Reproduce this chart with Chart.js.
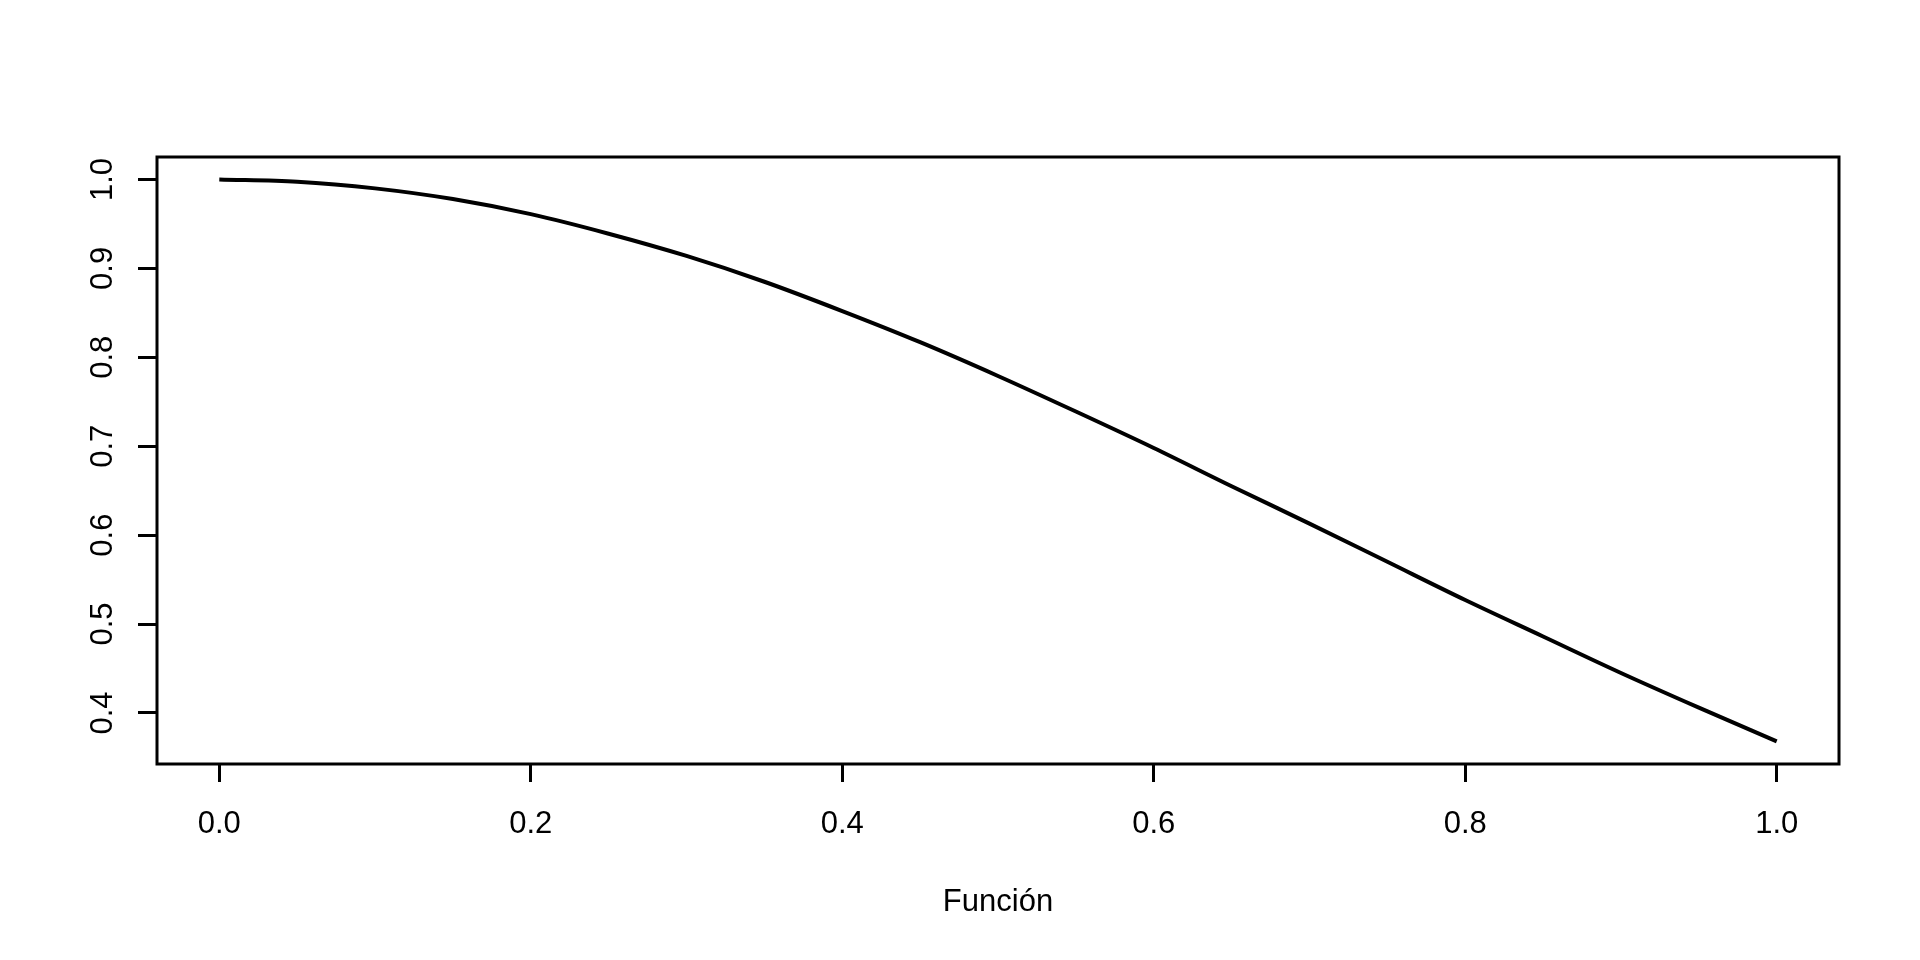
<!DOCTYPE html>
<html>
<head>
<meta charset="utf-8">
<script src="https://cdn.jsdelivr.net/npm/chart.js@4.4.1/dist/chart.umd.min.js"></script>
<style>
  html, body { margin: 0; padding: 0; background: #fff; }
  #grafico { display: block; }
</style>
</head>
<body>
<canvas id="grafico" width="1920" height="960"></canvas>
<script>
// valores
const valoresX = [0, 0.05, 0.1, 0.15, 0.2, 0.25, 0.3, 0.35, 0.4, 0.45, 0.5,
                  0.55, 0.6, 0.65, 0.7, 0.75, 0.8, 0.85, 0.9, 0.95, 1.0];
const valoresY = [1.000, 0.9975, 0.990, 0.978, 0.961, 0.939, 0.914, 0.885, 0.852, 0.817, 0.779,
                  0.739, 0.698, 0.655, 0.613, 0.570, 0.527, 0.486, 0.445, 0.406, 0.368];
const ticksX = [0, 0.2, 0.4, 0.6, 0.8, 1.0];
const ticksY = [0.4, 0.5, 0.6, 0.7, 0.8, 0.9, 1.0];
const tituloX = "Función";

const FUENTE = "'Liberation Sans', Arial, sans-serif";

// marco alrededor del área del gráfico (como box() en R)
const marco = {
  id: "marco",
  afterDraw(chart) {
    const { ctx, chartArea: a } = chart;
    ctx.save();
    ctx.strokeStyle = "#000";
    ctx.lineWidth = 3;
    ctx.strokeRect(a.left, a.top, a.right - a.left, a.bottom - a.top);

    // etiquetas del eje y giradas
    const y = chart.scales.y;
    ctx.fillStyle = "#000";
    ctx.font = "31px " + FUENTE;
    ctx.textAlign = "center";
    ctx.textBaseline = "alphabetic";
    ticksY.forEach(v => {
      const py = y.getPixelForValue(v);
      ctx.save();
      ctx.translate(112, py);
      ctx.rotate(-Math.PI / 2);
      ctx.fillText(v.toFixed(1), 0, 0);
      ctx.restore();
    });
    ctx.restore();
  }
};

const datos = valoresX.map((x, i) => ({ x, y: valoresY[i] }));

new Chart(document.getElementById("grafico").getContext("2d"), {
  type: "line",
  data: {
    datasets: [{
      data: datos,
      borderColor: "#000",
      borderWidth: 4,
      pointRadius: 0,
      fill: false,
      tension: 0.4,
      cubicInterpolationMode: "monotone"
    }]
  },
  options: {
    responsive: false,
    animation: false,
    devicePixelRatio: 1,
    layout: { padding: { left: 0, right: 81, top: 157, bottom: 39 } },
    plugins: { legend: { display: false }, tooltip: { enabled: false } },
    scales: {
      x: {
        type: "linear",
        min: -0.04,
        max: 1.04,
        afterBuildTicks: s => { s.ticks = ticksX.map(v => ({ value: v })); },
        afterFit: s => { s.height = 157; },
        border: { display: false },
        grid: { drawOnChartArea: false, drawTicks: true, tickLength: 18, tickColor: "#000", lineWidth: 3 },
        ticks: {
          color: "#000",
          font: { size: 31, family: FUENTE },
          padding: 24,
          maxRotation: 0,
          callback: v => v.toFixed(1)
        },
        title: {
          display: true,
          text: tituloX,
          color: "#000",
          font: { size: 31, family: FUENTE },
          padding: 0
        }
      },
      y: {
        min: 0.3426,
        max: 1.0253,
        afterBuildTicks: s => { s.ticks = ticksY.map(v => ({ value: v })); },
        afterFit: s => { s.width = 157; },
        border: { display: false },
        grid: { drawOnChartArea: false, drawTicks: true, tickLength: 19, tickColor: "#000", lineWidth: 3 },
        ticks: { display: false }
      }
    }
  },
  plugins: [marco]
});
</script>
</body>
</html>
